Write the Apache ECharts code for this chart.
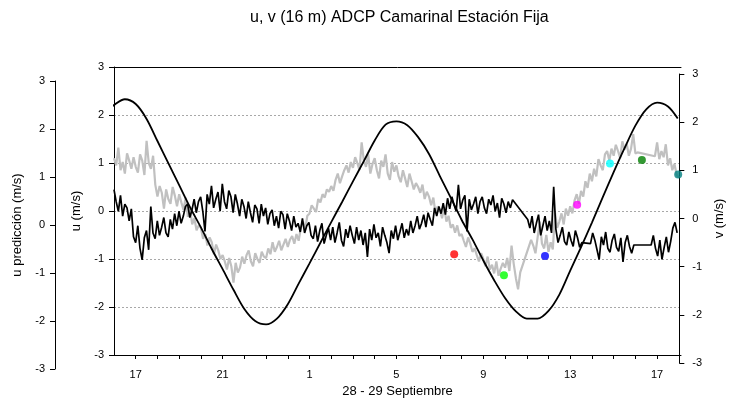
<!DOCTYPE html>
<html>
<head>
<meta charset="utf-8">
<script src="https://cdn.jsdelivr.net/npm/echarts@6/dist/echarts.min.js"></script>
<style>
html,body{margin:0;padding:0;background:#fff;}
#chart{width:734px;height:403px;}
</style>
</head>
<body>
<div id="chart"></div>
<script>
// ---- DATA ----
const title = 'u, v (16 m) ADCP Camarinal Estación Fija';
const xName = '28 - 29 Septiembre';
const uName = 'u (m/s)';
const vName = 'v (m/s)';
const pName = 'u predicción (m/s)';

// x values are hours counted from 28 Sep 00:00
const xMin = 16, xMax = 42.1;
const xTickLabelHours = [17, 21, 25, 29, 33, 37, 41]; // shown as hour of day

// predicted u (smooth black curve)
const predTimes = [15.75,16,16.5,17,17.5,18,18.5,19,19.5,20,20.5,21,21.5,22,22.5,23,23.5,24,24.5,25,25.5,26,26.5,27,27.5,28,28.5,29,29.5,30,30.5,31,31.5,32,32.5,33,33.5,34,34.5,35,35.5,36,36.5,37,37.5,38,38.5,39,39.5,40,40.5,41,41.5,41.95];
const predValues = [2.40,2.50,2.62,2.52,2.21,1.75,1.29,0.83,0.37,-0.05,-0.50,-0.92,-1.35,-1.75,-2.00,-2.07,-1.95,-1.65,-1.22,-0.80,-0.37,0.06,0.48,0.91,1.33,1.76,2.09,2.16,2.08,1.83,1.48,1.02,0.57,0.11,-0.30,-0.74,-1.15,-1.52,-1.80,-1.95,-1.95,-1.79,-1.45,-0.95,-0.46,0.05,0.58,1.10,1.60,2.07,2.41,2.55,2.47,2.22];

// measured series, one sample every 0.1 h from 16:00 (null = no sample)
const sampleStart = 16, sampleStep = 0.1;
const uValues = [
 1.10,0.95,1.32,0.85,1.02,0.78,1.20,1.05,0.88,1.12,
 0.92,0.80,1.18,1.05,0.75,1.46,1.00,0.88,1.15,0.55,
 0.30,0.52,0.38,0.05,0.45,0.25,0.15,0.50,0.32,0.10,
 0.35,0.18,0.02,0.28,-0.12,0.05,-0.28,-0.15,-0.40,-0.30,
 -0.35,-0.58,-0.48,-0.72,-0.55,-0.65,-0.90,-0.70,-0.82,-1.00,
 -0.92,-1.05,-1.22,-0.98,-1.15,-1.49,-1.08,-1.28,-1.18,-0.95,
 -1.10,-0.92,-0.82,-1.05,-1.15,-0.88,-1.00,-1.08,-0.85,-0.95,
 -0.98,-0.78,-0.90,-0.65,-0.85,-0.75,-0.62,-0.82,-0.70,-0.58,
 -0.75,-0.60,-0.52,-0.68,-0.48,-0.62,-0.35,-0.22,-0.38,-0.10,
 -0.05,0.12,0.05,-0.02,0.25,0.18,0.35,0.28,0.45,0.40,
 0.52,0.42,0.65,0.78,0.58,0.72,0.85,0.95,0.80,1.02,
 0.90,1.12,1.00,0.85,1.43,1.05,0.92,1.18,0.78,0.98,
 1.10,0.85,0.68,1.05,0.92,1.18,0.78,0.65,1.02,0.82,
 0.95,0.72,0.60,0.85,0.68,0.50,0.78,0.62,0.45,0.58,
 0.50,0.38,0.55,0.25,0.40,0.30,0.12,0.28,-0.05,0.10,
 0.02,-0.15,0.08,-0.22,-0.10,-0.35,-0.28,-0.45,-0.30,-0.52,
 -0.48,-0.62,-0.75,-0.55,-0.68,-0.85,-0.78,-0.92,-1.05,-0.88,
 -1.00,-1.15,-0.95,-1.22,-1.12,-1.30,-1.05,-1.35,-1.20,-1.08,
 -1.18,-0.98,-1.25,-0.72,-1.10,-1.40,-1.63,-1.28,null,null,
 null,null,-0.60,-0.72,-0.88,-0.55,-0.22,-0.68,-0.78,-0.50,
 -0.85,-0.65,-0.80,-0.03,-0.35,-0.22,-0.05,-0.28,0.05,-0.10,
 0.10,-0.05,0.22,0.35,0.15,0.42,0.30,0.62,0.48,0.78,
 0.62,0.88,0.72,1.08,0.95,0.85,1.18,1.25,1.05,1.30,
 1.15,1.38,1.25,1.10,1.45,1.28,1.40,1.15,1.30,1.60,
 1.20,1.22,null,null,null,null,null,null,null,1.14,
 1.43,1.08,1.25,1.12,1.39,0.95,1.10,0.85,0.98,0.75,
 0.70
];
const vValues = [
 0.60,0.35,0.15,0.48,0.05,0.30,0.22,-0.05,0.20,-0.38,
 -0.50,-0.15,-0.62,-0.86,-0.40,-0.25,-0.65,0.25,-0.30,-0.42,
 -0.05,-0.35,-0.18,0.02,-0.30,-0.38,-0.02,-0.22,0.10,-0.15,
 0.15,-0.10,0.05,0.25,0.30,0.02,0.18,0.40,0.12,0.35,
 0.45,0.15,-0.27,0.50,0.30,0.68,0.22,0.40,0.55,0.15,
 0.72,0.35,0.20,0.58,0.45,0.12,0.50,0.30,0.05,0.40,
 0.25,0.00,0.35,0.12,-0.08,0.28,0.20,-0.10,0.30,0.05,
 0.22,-0.12,0.10,0.18,-0.15,0.05,-0.20,0.15,0.08,-0.22,
 0.10,-0.05,-0.25,0.05,-0.18,-0.10,-0.28,0.00,-0.30,-0.15,
 -0.08,-0.35,-0.42,-0.15,-0.48,-0.25,-0.10,-0.52,-0.35,-0.20,
 -0.45,-0.18,-0.50,-0.30,-0.08,-0.45,-0.58,-0.22,-0.40,-0.15,
 -0.35,-0.52,-0.18,-0.45,-0.25,-0.55,-0.30,-0.80,-0.22,-0.45,
 -0.12,-0.40,-0.30,-0.58,-0.18,-0.35,-0.50,-0.72,-0.25,-0.42,
 -0.15,-0.45,-0.28,-0.10,-0.40,-0.22,-0.35,-0.05,-0.30,-0.15,
 0.05,-0.22,-0.10,0.08,-0.18,0.12,-0.02,-0.15,0.22,0.05,
 0.25,0.10,0.32,0.08,0.42,0.20,0.45,0.28,0.15,0.70,
 0.20,0.38,0.48,-0.27,0.40,0.18,0.30,0.45,0.10,0.35,
 0.45,0.22,0.10,0.40,0.28,0.48,0.15,0.32,0.02,0.42,
 0.30,0.12,0.35,0.22,0.39,null,null,null,null,null,
 null,-0.02,-0.20,0.05,-0.30,-0.10,0.08,-0.35,-0.15,0.05,
 -0.25,-0.05,-0.30,0.66,-0.22,-0.50,-0.35,-0.18,-0.48,-0.55,
 -0.28,-0.45,-0.58,-0.25,-0.40,-0.60,-0.50,null,null,null,
 -0.52,-0.30,-0.45,-0.65,-0.85,-0.38,-0.55,-0.28,-0.62,-0.70,
 -0.45,-0.32,-0.60,-0.68,-0.40,-0.90,-0.50,-0.35,-0.58,-0.72,
 -0.55,null,null,null,null,null,null,null,-0.55,-0.35,
 -0.62,-0.78,-0.45,-0.85,-0.60,-0.38,-0.70,-0.48,-0.20,-0.08,
 -0.30
];

// station marks on the u series
const dotTimes  = [31.66, 33.95, 35.84, 37.32, 38.83, 40.30, 41.97];
const dotValues = [-0.90, -1.34, -0.94, 0.13, 0.99, 1.06, 0.76];
const dotColors = ['#ff0000', '#00ff00', '#0000ff', '#ff00ff', '#00ffff', '#008000', '#008080'];

// ---- CHART ----
const FONT = 'Liberation Sans, Arial, sans-serif';
const toPairs = (vals) => vals.map((v, i) => [+(sampleStart + i * sampleStep).toFixed(2), v]);
const predData = predTimes.map((t, i) => [t, predValues[i]]);
const dotData = dotTimes.map((t, i) => ({ value: [t, dotValues[i]], itemStyle: { color: dotColors[i] } }));

const labelStyle = { color: '#000', fontSize: 11, fontFamily: FONT };
const nameStyle = { color: '#000', fontSize: 13, fontFamily: FONT };

function yAxisBase(gridIndex, position, name, nameGap, margin) {
  return {
    type: 'value', gridIndex, position, min: -3, max: 3, interval: 1,
    name, nameLocation: 'middle', nameGap, nameTextStyle: nameStyle,
    axisLine: { show: true, onZero: false, lineStyle: { color: '#000', width: 1 } },
    axisTick: { show: true, inside: false, length: 5, lineStyle: { color: '#000' } },
    axisLabel: Object.assign({ margin }, labelStyle),
    splitLine: { show: false }
  };
}

const chart = echarts.init(document.getElementById('chart'), null, { renderer: 'canvas' });
chart.setOption({
  animation: false,
  backgroundColor: '#fff',
  title: { text: title, left: 245, top: 5,
    textStyle: { color: '#000', fontSize: 16, fontWeight: 'normal', fontFamily: FONT } },
  grid: [
    { left: 114, right: 53, top: 67, bottom: 47 },
    { left: 114, right: 53, top: 74, bottom: 40 },
    { left: 114, right: 53, top: 81, bottom: 34 }
  ],
  xAxis: [
    { type: 'value', gridIndex: 0, position: 'bottom', min: xMin, max: xMax, interval: 1,
      name: xName, nameLocation: 'middle', nameGap: 30, nameTextStyle: nameStyle,
      axisLine: { show: true, onZero: false, lineStyle: { color: '#000', width: 1 } },
      axisTick: { show: true, length: 4, lineStyle: { color: '#000' } },
      axisLabel: Object.assign({ margin: 14, showMaxLabel: false, showMinLabel: false,
        formatter: (v) => {
          const r = Math.round(v);
          if (Math.abs(v - r) > 1e-6 || xTickLabelHours.indexOf(r) < 0) return '';
          return String(r % 24);
        } }, labelStyle),
      splitLine: { show: false } },
    { type: 'value', gridIndex: 0, position: 'top', min: xMin, max: xMax,
      axisLine: { show: true, onZero: false, lineStyle: { color: '#000', width: 1 } },
      axisTick: { show: false }, axisLabel: { show: false }, splitLine: { show: false } },
    { type: 'value', gridIndex: 1, min: xMin, max: xMax, show: false },
    { type: 'value', gridIndex: 2, min: xMin, max: xMax, show: false }
  ],
  yAxis: [
    Object.assign(yAxisBase(0, 'left', uName, 26, 10), {
      splitLine: { show: true, lineStyle: { color: '#a8a8a8', type: [2, 2], width: 1 } } }),
    yAxisBase(1, 'right', vName, 33, 13),
    Object.assign(yAxisBase(2, 'left', pName, 28, 10), { offset: 59 })
  ],
  series: [
    { name: 'u', type: 'line', xAxisIndex: 0, yAxisIndex: 0, data: toPairs(uValues),
      showSymbol: false, connectNulls: true, z: 2,
      lineStyle: { color: '#c0c0c0', width: 2.2 } },
    { name: 'v', type: 'line', xAxisIndex: 2, yAxisIndex: 1, data: toPairs(vValues),
      showSymbol: false, connectNulls: true, z: 3,
      lineStyle: { color: '#000', width: 1.7 } },
    { name: 'u predicción', type: 'line', xAxisIndex: 3, yAxisIndex: 2, data: predData,
      showSymbol: false, smooth: 0.3, clip: false, z: 4,
      lineStyle: { color: '#000', width: 1.8 } },
    { name: 'estaciones', type: 'scatter', xAxisIndex: 0, yAxisIndex: 0, data: dotData,
      symbolSize: 8, z: 5 }
  ]
});
</script>
</body>
</html>
